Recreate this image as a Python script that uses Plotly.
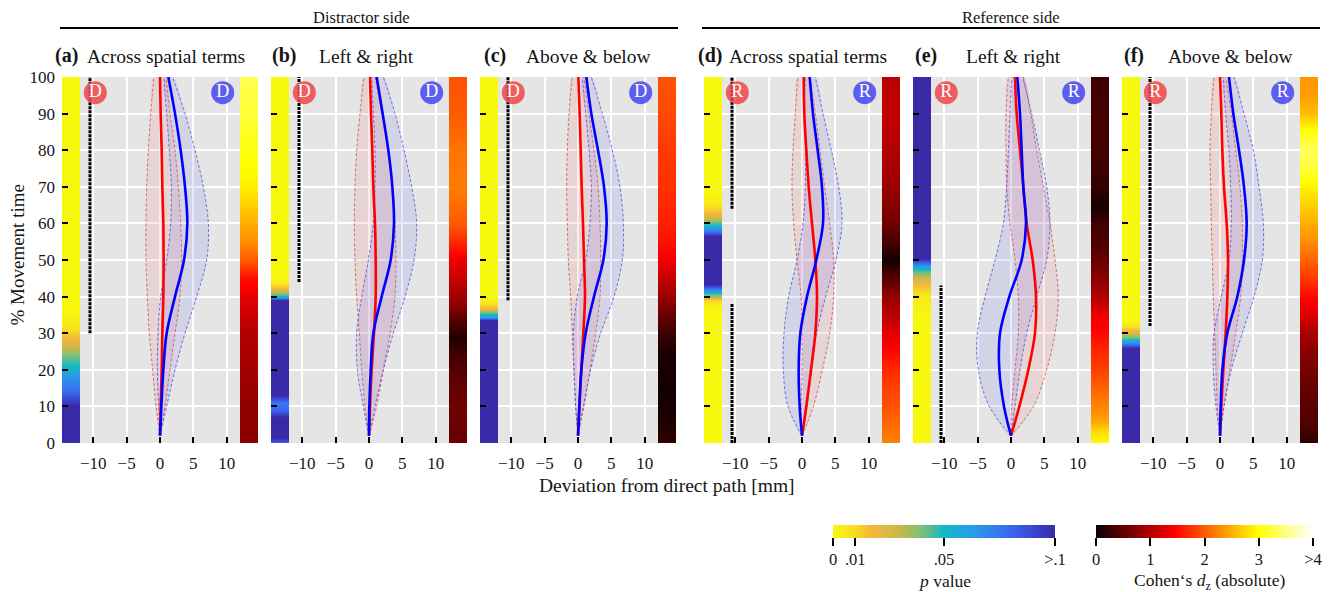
import plotly.graph_objects as go

# ---------------- data ----------------
T = [2, 10, 20, 30, 40, 50, 60, 70, 80, 90, 100]

panel_labels = ["(a)", "(b)", "(c)", "(d)", "(e)", "(f)"]
panel_titles = ["Across spatial terms", "Left & right", "Above & below",
                "Across spatial terms", "Left & right", "Above & below"]
marker_letters = ["D", "D", "D", "R", "R", "R"]

red_mean = [
    [0, 0.1, 0.25, 0.35, 0.5, 0.55, 0.5, 0.35, 0.25, 0.1, 0.0],
    [0, 0.15, 0.4, 0.75, 1.0, 1.0, 0.9, 0.65, 0.5, 0.3, 0.15],
    [0, 0.2, 0.5, 0.8, 1.05, 0.9, 0.75, 0.55, 0.4, 0.25, 0.05],
    [0, 0.65, 1.35, 2.0, 2.25, 2.0, 1.5, 1.0, 0.65, 0.35, 0.25],
    [0, 1.25, 2.6, 3.6, 3.75, 3.25, 2.35, 1.85, 1.35, 0.85, 0.6],
    [0, 0.2, 0.5, 0.85, 1.1, 1.2, 1.0, 0.6, 0.35, 0.2, 0.0],
]
red_lo = [
    [0, -0.6, -1.1, -1.6, -1.9, -2.1, -2.1, -2.0, -1.75, -1.4, -0.9],
    [0, -0.6, -1.1, -1.45, -1.85, -2.1, -2.2, -2.1, -1.85, -1.35, -0.75],
    [0, -0.35, -0.6, -0.85, -1.1, -1.45, -1.6, -1.7, -1.6, -1.35, -0.85],
    [0, -0.1, 0.0, 0.0, -0.15, -0.75, -1.25, -1.5, -1.35, -1.0, -0.65],
    [0, 0.1, 0.6, 1.1, 1.1, 0.6, -0.15, -0.65, -0.75, -0.75, -0.4],
    [0, -0.4, -0.6, -0.8, -1.0, -1.15, -1.3, -1.4, -1.5, -1.3, -0.9],
]
red_hi = [
    [0, 0.75, 1.5, 2.25, 3.0, 3.25, 3.1, 2.75, 2.25, 1.5, 0.9],
    [0, 1.15, 2.15, 3.15, 3.9, 4.05, 3.9, 3.55, 2.9, 1.9, 0.9],
    [0, 0.9, 1.8, 2.65, 3.3, 3.4, 3.3, 3.0, 2.4, 1.65, 0.9],
    [0, 1.7, 3.05, 4.15, 4.75, 4.75, 4.15, 3.4, 2.7, 2.0, 1.15],
    [0, 3.35, 5.35, 6.6, 7.1, 6.6, 5.85, 4.85, 3.85, 2.95, 1.85],
    [0, 0.6, 1.5, 2.35, 3.1, 3.35, 3.35, 3.0, 2.35, 1.7, 0.85],
]
blue_mean = [
    [0, 0.2, 0.5, 1.0, 2.25, 3.6, 4.1, 3.75, 3.1, 2.25, 1.25],
    [0, 0.05, 0.25, 0.65, 1.9, 3.25, 3.75, 3.5, 2.9, 2.05, 1.15],
    [0, 0.2, 0.5, 1.15, 2.4, 3.8, 4.3, 3.9, 3.0, 2.0, 1.25],
    [0, -0.35, -0.5, -0.25, 0.75, 2.15, 3.15, 3.0, 2.35, 1.65, 1.15],
    [0, -1.05, -1.75, -1.65, -0.25, 1.6, 2.25, 1.85, 1.6, 1.35, 0.95],
    [0, 0.1, 0.35, 1.1, 2.6, 3.6, 4.0, 3.6, 2.85, 2.0, 1.35],
]
blue_lo = [
    [0, -0.2, -0.4, -0.3, 0.1, 1.0, 1.6, 1.7, 1.4, 1.0, 0.6],
    [0, -0.85, -1.75, -1.85, -1.1, -0.1, 0.65, 0.9, 0.9, 0.65, 0.4],
    [0, -0.35, -0.6, -0.7, -0.1, 1.15, 1.8, 2.0, 1.65, 1.15, 0.65],
    [0, -2.1, -2.8, -2.7, -2.0, -0.75, 0.15, 0.5, 0.5, 0.35, 0.5],
    [0, -3.25, -4.9, -5.05, -3.9, -2.4, -1.15, -0.65, -0.4, -0.15, 0.1],
    [0, -0.6, -1.0, -0.9, 0.2, 1.35, 1.7, 1.6, 1.35, 0.85, 0.5],
]
blue_hi = [
    [0, 1.0, 2.25, 3.75, 5.5, 7.0, 7.25, 6.5, 5.25, 3.75, 1.9],
    [0, 0.9, 2.15, 3.65, 5.4, 6.75, 7.15, 6.4, 5.25, 3.9, 2.15],
    [0, 0.8, 1.9, 3.4, 5.4, 6.65, 6.8, 6.3, 5.15, 3.65, 2.0],
    [0, 0.75, 1.45, 2.2, 3.55, 5.1, 6.0, 5.5, 4.4, 3.15, 2.0],
    [0, 0.6, 1.35, 2.35, 3.85, 5.35, 5.85, 5.35, 4.25, 3.1, 1.75],
    [0, 0.6, 1.7, 3.35, 5.1, 6.35, 6.5, 5.85, 5.0, 3.6, 2.1],
]

# p-value strips (time knots, p values; >.1 shown as .1)
p_time = [
    [0, 10, 12, 15, 18, 21, 24, 27, 30, 33, 36, 100],
    [0, 1.5, 7, 9, 11, 13, 39, 40, 41, 42.5, 44, 46, 100],
    [0, 33.5, 34.5, 35.5, 36.5, 38, 40, 100],
    [0, 37, 39, 40, 41, 42, 43.5, 56.5, 58, 59.5, 61, 63, 66, 69, 100],
    [0, 34, 40, 43, 45, 46.5, 48, 49, 50.5, 100],
    [0, 26, 27, 28, 29, 30.5, 32, 34, 100],
]
p_vals = [
    [0.1, 0.1, 0.09, 0.075, 0.065, 0.05, 0.04, 0.025, 0.012, 0.004, 0, 0],
    [0.08, 0.1, 0.1, 0.08, 0.075, 0.1, 0.1, 0.055, 0.035, 0.015, 0.003, 0, 0],
    [0.1, 0.1, 0.06, 0.045, 0.02, 0.008, 0, 0],
    [0, 0, 0.012, 0.03, 0.05, 0.075, 0.1, 0.1, 0.075, 0.05, 0.035, 0.015, 0.004, 0, 0],
    [0, 0, 0.005, 0.015, 0.028, 0.04, 0.055, 0.075, 0.1, 0.1],
    [0.1, 0.1, 0.075, 0.055, 0.04, 0.02, 0.007, 0, 0],
]

# Cohen's dz strips (time knots, |dz|)
d_time = [
    [0, 10, 20, 30, 40, 45, 50, 55, 60, 65, 70, 80, 90, 100],
    [0, 10, 20, 25, 29, 33, 38, 45, 50, 55, 60, 70, 80, 90, 100],
    [0, 5, 15, 25, 30, 35, 40, 45, 50, 55, 60, 70, 80, 90, 100],
    [0, 5, 10, 15, 20, 25, 30, 35, 40, 45, 50, 55, 60, 65, 70, 80, 90, 100],
    [0, 3, 6, 10, 15, 20, 25, 30, 35, 40, 45, 50, 55, 60, 65, 70, 80, 90, 100],
    [0, 5, 15, 25, 30, 35, 40, 45, 50, 55, 60, 65, 70, 75, 80, 85, 90, 95, 100],
]
d_vals = [
    [0.75, 0.8, 0.9, 1.0, 1.3, 1.55, 2.0, 2.3, 2.5, 2.7, 2.9, 3.05, 3.2, 3.3],
    [0.55, 0.6, 0.45, 0.3, 0.12, 0.4, 0.8, 1.15, 1.35, 1.7, 2.0, 2.2, 2.15, 2.0, 1.95],
    [0.25, 0.12, 0.05, 0.1, 0.3, 0.55, 0.85, 1.1, 1.4, 1.55, 1.65, 1.75, 1.8, 1.9, 1.95],
    [2.25, 2.1, 1.95, 1.85, 1.7, 1.5, 1.3, 1.05, 0.85, 0.45, 0.05, 0.35, 0.6, 0.75, 0.85, 1.0, 1.1, 1.05],
    [2.95, 2.8, 2.45, 2.25, 2.05, 1.85, 1.7, 1.5, 1.35, 1.0, 0.75, 0.55, 0.4, 0.3, 0.05, 0.25, 0.35, 0.35, 0.3],
    [0.2, 0.4, 0.55, 0.75, 0.95, 1.25, 1.5, 1.8, 2.05, 2.3, 2.5, 2.7, 2.9, 3.2, 3.35, 3.05, 2.6, 2.4, 2.35],
]

# significant time ranges (black dotted bars)
sig_ranges = [
    [[30, 100]],
    [[44, 100]],
    [[39, 100]],
    [[0, 38], [64, 100]],
    [[0, 43]],
    [[32, 100]],
]

x_ticks = [-10, -5, 0, 5, 10]
y_ticks = [0, 10, 20, 30, 40, 50, 60, 70, 80, 90, 100]
p_ticks = [0, 0.01, 0.05, 0.1]
p_ticktext = ["0", ".01", ".05", ">.1"]
d_ticks = [0, 1, 2, 3, 4]
d_ticktext = ["0", "1", "2", "3", ">4"]

# ---------------- styling / layout ----------------
OFF = 8                      # page body margin of the browser
W, H = 1333 - OFF, 592 - OFF
FONT = "Liberation Serif"
TXT = "#151515"
XLIM = 14.7
INNER = 12.0
panel_left_px = [62, 271, 480, 704, 913, 1122]
panel_w_px = 196
top_px, bot_px = 77, 443
title_center_px = [166, 366, 588, 808, 1013, 1230]
label_left_px = [53, 270, 482, 696, 913, 1122]

p_scale = [
    [0.0, "#F8F80E"], [0.08, "#F8E21C"], [0.17, "#F6B83A"], [0.3, "#C9B848"],
    [0.4, "#7EC07A"], [0.5, "#12B9C4"], [0.63, "#2A9BE6"], [0.78, "#3A6EF2"],
    [0.92, "#3A40CC"], [1.0, "#3A2AA8"],
]
hot_scale = [[0.0, "#0B0000"], [0.365, "#FF0000"], [0.746, "#FFFF00"], [1.0, "#FFFFFF"]]


def fx(p):
    return (p - OFF) / W


def fy(p):
    return 1 - (p - OFF) / H


fig = go.Figure()
layout = dict(
    width=W, height=H, margin=dict(l=0, r=0, t=0, b=0, autoexpand=False),
    paper_bgcolor="white", plot_bgcolor="#E5E5E5",
    showlegend=False, font=dict(family=FONT, color=TXT),
)

annotations = []
shapes = []


def text_at(xp, yp, text, size, **kw):
    d = dict(x=fx(xp), y=fy(yp), xref="paper", yref="paper", text=text,
             showarrow=False, xanchor="center", yanchor="middle",
             font=dict(size=size, family=FONT, color=TXT))
    d.update(kw)
    annotations.append(d)


for i in range(6):
    n = i + 1
    xa = "x" if n == 1 else f"x{n}"
    ya = "y" if n == 1 else f"y{n}"
    L = panel_left_px[i]
    layout[f"xaxis{'' if n == 1 else n}"] = dict(
        domain=[fx(L), fx(L + panel_w_px)], range=[-XLIM, XLIM], anchor=ya,
        tickvals=x_ticks, ticks="inside", ticklen=6, tickwidth=2, tickcolor="black",
        showgrid=True, gridcolor="white", gridwidth=2, zeroline=False, showline=False,
        tickfont=dict(size=17, family=FONT, color=TXT), ticklabelstandoff=8,
        automargin=False, fixedrange=True,
    )
    layout[f"yaxis{'' if n == 1 else n}"] = dict(
        domain=[fy(bot_px), fy(top_px)], range=[0, 100], anchor=xa,
        tickvals=y_ticks, ticks="inside", ticklen=6, tickwidth=2, tickcolor="black",
        showgrid=True, gridcolor="white", gridwidth=2, zeroline=False, showline=False,
        showticklabels=(i == 0), tickfont=dict(size=17, family=FONT, color=TXT),
        ticklabelstandoff=6, automargin=False, fixedrange=True,
    )

    # CI bands
    for lo, hi, fc in [(red_lo[i], red_hi[i], "rgba(235,80,80,0.12)"),
                       (blue_lo[i], blue_hi[i], "rgba(80,80,235,0.12)")]:
        fig.add_trace(go.Scatter(
            x=hi + lo[::-1], y=T + T[::-1], fill="toself", fillcolor=fc,
            mode="lines", line=dict(width=0, shape="spline"), hoverinfo="skip",
            xaxis=xa, yaxis=ya))
    for arr, col in [(red_lo[i], "rgba(205,90,90,0.85)"), (red_hi[i], "rgba(205,90,90,0.85)"),
                     (blue_lo[i], "rgba(90,90,215,0.85)"), (blue_hi[i], "rgba(90,90,215,0.85)")]:
        fig.add_trace(go.Scatter(
            x=arr, y=T, mode="lines",
            line=dict(color=col, width=1, dash="3px,2px", shape="spline"),
            hoverinfo="skip", xaxis=xa, yaxis=ya))
    fig.add_trace(go.Scatter(x=red_mean[i], y=T, mode="lines",
                             line=dict(color="#FF0000", width=2.6, shape="spline"),
                             xaxis=xa, yaxis=ya))
    fig.add_trace(go.Scatter(x=blue_mean[i], y=T, mode="lines",
                             line=dict(color="#0000FF", width=2.6, shape="spline"),
                             xaxis=xa, yaxis=ya))

    # p-value strip (left)
    pc = (XLIM - INNER) / 2
    fig.add_trace(go.Heatmap(
        x=[-XLIM + pc / 2, -XLIM + 1.5 * pc], y=p_time[i],
        z=[[v, v] for v in p_vals[i]], coloraxis="coloraxis", zsmooth="best",
        hoverinfo="skip", xaxis=xa, yaxis=ya))
    # effect-size strip (right)
    fig.add_trace(go.Heatmap(
        x=[INNER + pc / 2, INNER + 1.5 * pc], y=d_time[i],
        z=[[v, v] for v in d_vals[i]], coloraxis="coloraxis2", zsmooth="best",
        hoverinfo="skip", xaxis=xa, yaxis=ya))

    # significance bars
    for a, b in sig_ranges[i]:
        fig.add_trace(go.Scatter(x=[-10.5, -10.5], y=[a, b], mode="lines",
                                 line=dict(color="black", width=3, dash="3px,1px"),
                                 hoverinfo="skip", xaxis=xa, yaxis=ya))

    # condition markers
    fig.add_trace(go.Scatter(
        x=[-9.7, 9.4], y=[95.7, 95.7], mode="markers+text",
        marker=dict(size=23, color=["rgba(240,70,70,0.85)", "rgba(70,70,240,0.85)"]),
        text=[marker_letters[i]] * 2, textposition="middle center",
        textfont=dict(color="white", size=18, family=FONT),
        hoverinfo="skip", xaxis=xa, yaxis=ya))

    # titles
    text_at(label_left_px[i], 55, f"<b>{panel_labels[i]}</b>", 20, xanchor="left")
    text_at(title_center_px[i], 56, panel_titles[i], 19.5)

# group headers
text_at(361, 17, "Distractor side", 16.5)
text_at(1011, 17, "Reference side", 16.5)
shapes.append(dict(type="line", xref="paper", yref="paper", x0=fx(60), x1=fx(678),
                   y0=fy(28), y1=fy(28), line=dict(color="black", width=2)))
shapes.append(dict(type="line", xref="paper", yref="paper", x0=fx(702), x1=fx(1320),
                   y0=fy(28), y1=fy(28), line=dict(color="black", width=2)))

# axis titles
text_at(17.5, 255, "% Movement time", 19, textangle=-90)
text_at(667, 485, "Deviation from direct path [mm]", 19.5)

# colour-scale titles
text_at(944, 581, "<i>p</i> value", 17.5)
text_at(1209, 581, "Cohen‘s <i>d</i><sub>z</sub> (absolute)", 17.5)

layout["annotations"] = annotations
layout["shapes"] = shapes
layout["coloraxis"] = dict(
    cmin=0, cmax=0.1, colorscale=p_scale,
    colorbar=dict(orientation="h", x=fx(944), xanchor="center", y=fy(525), yanchor="top",
                  len=222, lenmode="pixels", thickness=13, thicknessmode="pixels",
                  xpad=0, ypad=0, outlinewidth=0, ticks="outside", ticklen=8, tickwidth=2,
                  tickcolor="black", tickvals=p_ticks, ticktext=p_ticktext,
                  tickfont=dict(size=16.5, family=FONT, color=TXT)))
layout["coloraxis2"] = dict(
    cmin=0, cmax=4, colorscale=hot_scale,
    colorbar=dict(orientation="h", x=fx(1204.5), xanchor="center", y=fy(525), yanchor="top",
                  len=217, lenmode="pixels", thickness=13, thicknessmode="pixels",
                  xpad=0, ypad=0, outlinewidth=0, ticks="outside", ticklen=8, tickwidth=2,
                  tickcolor="black", tickvals=d_ticks, ticktext=d_ticktext,
                  tickfont=dict(size=16.5, family=FONT, color=TXT)))

fig.update_layout(**layout)
fig.write_html("out.html")
